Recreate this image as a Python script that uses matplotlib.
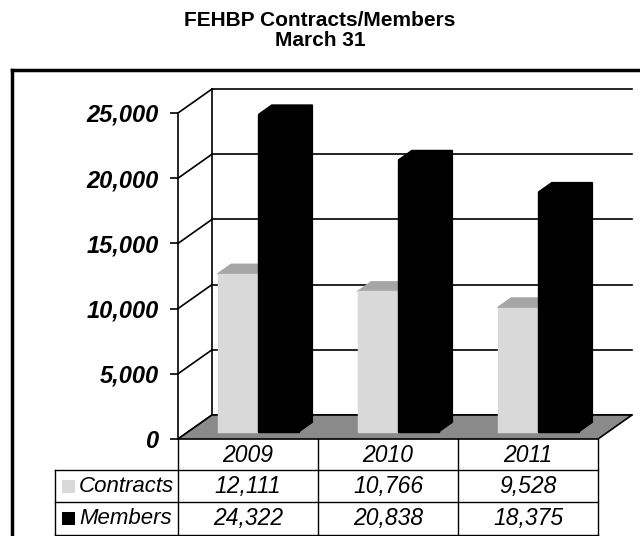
import matplotlib
matplotlib.use("Agg")
import matplotlib.pyplot as plt
from matplotlib.patches import Polygon, Rectangle
from matplotlib.lines import Line2D
from matplotlib.transforms import blended_transform_factory

plt.rcParams['font.family'] = ['Liberation Sans', 'DejaVu Sans']

years = ['2009', '2010', '2011']
contracts = [12111, 10766, 9528]
members = [24322, 20838, 18375]
series_names = ['Contracts', 'Members']
yticks = [0, 5000, 10000, 15000, 20000, 25000]

W, H = 640, 536
fig = plt.figure(figsize=(W / 100, H / 100), dpi=100)

# front plane of the fake 3d plot, in pixels
x0, x1, y0, y1 = 178, 598, 439, 113
ax = fig.add_axes([x0 / W, 1 - y0 / H, (x1 - x0) / W, (y0 - y1) / H])
ax.set_xlim(0, 3)
ax.set_ylim(0, 25000)

# depth offset of the back wall (34px right, 24px up)
dx = 34 / 140
dy = 24 * 25000 / (y0 - y1)

# back wall grid + side wall
for v in yticks:
    ax.plot([dx, 3 + dx], [v + dy, v + dy], color='black', lw=1.2, clip_on=False, zorder=1)
    ax.plot([0, dx], [v, v + dy], color='black', lw=1.2, clip_on=False, zorder=1)
ax.plot([dx, dx], [dy, 25000 + dy], color='black', lw=1.2, clip_on=False, zorder=1)

# floor
floor = Polygon([(0, 0), (3, 0), (3 + dx, dy), (dx, dy)], closed=True,
                facecolor='#8a8a8a', edgecolor='black', lw=1.2, clip_on=False, zorder=2)
ax.add_patch(floor)

# bars
f0, f1 = 0.3, 0.7
w = 0.29
ox, oy = f0 * dx, f0 * dy
ddx, ddy = (f1 - f0) * dx, (f1 - f0) * dy
styles = [('#d9d9d9', '#a6a6a6', '#bdbdbd'), ('black', 'black', 'black')]
for s, vals in enumerate([contracts, members]):
    front, top, side = styles[s]
    for i, v in enumerate(vals):
        xl = i + 0.5 - w + s * w + ox
        xr = xl + w
        z = 3 + 2 * s
        ax.add_patch(Polygon([(xr, oy), (xr, v + oy), (xr + ddx, v + oy + ddy), (xr + ddx, oy + ddy)],
                             closed=True, facecolor=side, edgecolor=side, lw=1, clip_on=False, zorder=z))
        ax.add_patch(Polygon([(xl, v + oy), (xr, v + oy), (xr + ddx, v + oy + ddy), (xl + ddx, v + oy + ddy)],
                             closed=True, facecolor=top, edgecolor=top, lw=1, clip_on=False, zorder=z))
    ax.bar([i + 0.5 - w + s * w + ox for i in range(3)], vals, width=w, bottom=oy,
           align='edge', color=front, edgecolor=front, lw=1, clip_on=False, zorder=z + 1)

for sp in ['top', 'right', 'bottom']:
    ax.spines[sp].set_visible(False)
ax.spines['left'].set_linewidth(1.2)
ax.set_xticks([])
ax.set_yticks(yticks)
ax.set_yticklabels([f'{v:,}' for v in yticks], fontsize=17, fontweight='bold', style='italic')
ax.tick_params(axis='y', length=6, width=1.2, pad=8)
ax.patch.set_visible(False)

# data table under the plot
tr = blended_transform_factory(ax.transData, fig.transFigure)
fy = lambda p: 1 - p / H
lab_x = (55 - x0) / 140
rows = [439, 470, 502, 535]
for xv in range(4):
    ax.plot([xv, xv], [fy(rows[0]), fy(rows[3])], color='black', lw=1, transform=tr, clip_on=False)
ax.plot([lab_x, lab_x], [fy(rows[1]), fy(rows[3])], color='black', lw=1, transform=tr, clip_on=False)
for r in rows[1:]:
    ax.plot([lab_x, 3], [fy(r), fy(r)], color='black', lw=1, transform=tr, clip_on=False)

for i, yr in enumerate(years):
    ax.text(i + 0.5, fy(456), yr, transform=tr, ha='center', va='center', fontsize=16.5, style='italic')
for r, vals in enumerate([contracts, members]):
    yc = fy((rows[r + 1] + rows[r + 2]) / 2)
    for i, v in enumerate(vals):
        ax.text(i + 0.5, yc, f'{v:,}', transform=tr, ha='center', va='center', fontsize=16.5, style='italic')
    ax.add_patch(Rectangle(((62 - x0) / 140, yc - 6.5 / H), 13 / 140, 13 / H, transform=tr,
                           facecolor=styles[r][0], edgecolor='none', clip_on=False))
    ax.text((79 - x0) / 140, yc, series_names[r], transform=tr, ha='left', va='center',
            fontsize=16, style='italic')

# outer frame and title
fig.add_artist(Line2D([12 / W, 1], [fy(70), fy(70)], color='black', lw=2.5))
fig.add_artist(Line2D([12 / W, 12 / W], [fy(70), 0], color='black', lw=2.5))
fig.text(0.5, fy(21), 'FEHBP Contracts/Members', ha='center', va='center', fontsize=15, fontweight='bold')
fig.text(0.5, fy(40), 'March 31', ha='center', va='center', fontsize=15, fontweight='bold')

fig.savefig('out.png', dpi=100)
